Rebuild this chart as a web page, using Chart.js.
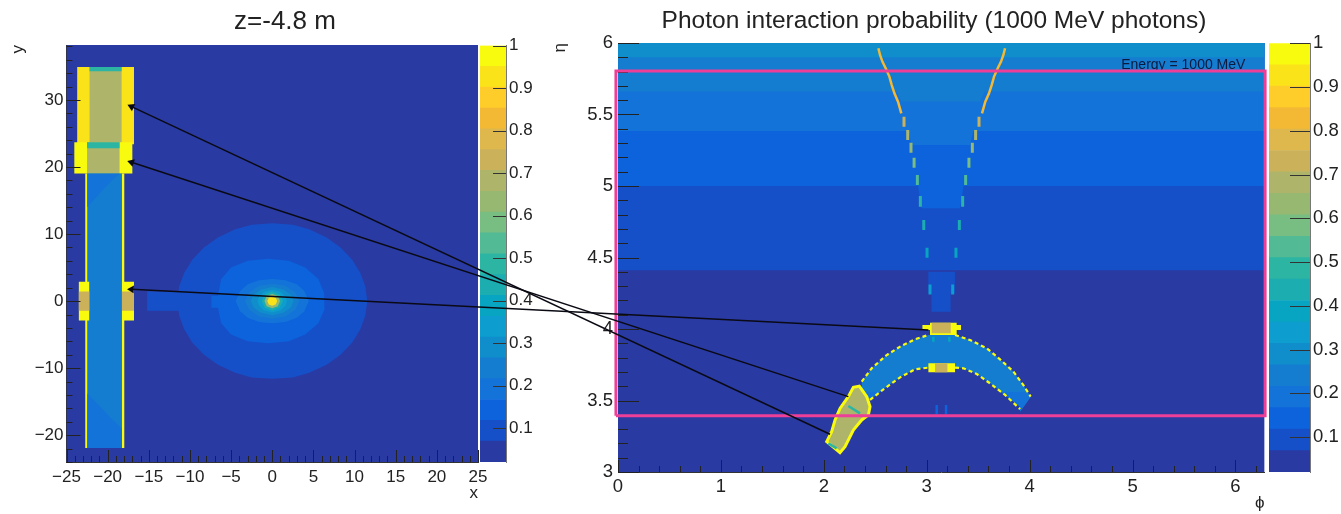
<!DOCTYPE html>
<html>
<head>
<meta charset="utf-8">
<title>Photon interaction probability</title>
<script src="https://cdn.jsdelivr.net/npm/chart.js@4"></script>
<style>
  html, body { margin: 0; padding: 0; background: #fff; }
  body { position: relative; width: 1341px; height: 514px; overflow: hidden; }
  canvas { position: absolute; top: 0; }
  #leftMap { left: 0; }
  #leftBar { left: 480px; }
  #rightMap { left: 540px; }
  #rightBar { left: 1269px; }
  #overlay { left: 0; pointer-events: none; }
</style>
</head>
<body>
<canvas id="leftMap" width="570" height="514"></canvas>
<canvas id="leftBar" width="60" height="514"></canvas>
<canvas id="rightMap" width="788" height="514"></canvas>
<canvas id="rightBar" width="72" height="514"></canvas>
<canvas id="overlay" width="1341" height="514"></canvas>
<script>
// colour scale, 20 contours
const zLevels = [0.02, 0.069, 0.118, 0.167, 0.216, 0.265, 0.314, 0.363, 0.412, 0.461, 0.51,
  0.559, 0.608, 0.657, 0.706, 0.755, 0.804, 0.853, 0.902, 0.951, 1];
const levelColors = ['#2a3aa3', '#1650c8', '#0c63dc', '#1473d8', '#147dd0', '#0f8ecb', '#0d9dce',
  '#08a5c2', '#1cadb0', '#2db5a3', '#52ba95', '#78bd82', '#96b870', '#aeb56a', '#cbb25a',
  '#dfb84d', '#f3b834', '#fecd2a', '#fbe31a', '#f9fb0e'];
const zTicks = [0.1, 0.2, 0.3, 0.4, 0.5, 0.6, 0.7, 0.8, 0.9, 1];

// left map: z=-4.8 m
const leftXTicks = [-25, -20, -15, -10, -5, 0, 5, 10, 15, 20, 25];
const leftYTicks = [-20, -10, 0, 10, 20, 30];
// [z, x0, x1, y0, y1]
const leftBlocks = [
  [0.045, -25, 25, -24, 38.2],
  [0.09, -15.2, -11, -1.45, 1.45],
  [0.93, -23.7, -16.8, 23.4, 34.9],
  [0.68, -22.2, -18.3, 23.4, 34.9],
  [0.47, -22.2, -18.3, 34.3, 34.9],
  [0.97, -24.05, -17, 19.05, 23.7],
  [0.68, -22.5, -18.55, 19.05, 23.7],
  [0.47, -22.5, -18.55, 22.8, 23.7],
  [0.97, -22.72, -17.98, -21.9, 19.05],
  [0.24, -22.48, -18.26, -21.9, 19.05],
  [0.97, -23.5, -22.24, -2.9, 2.9],
  [0.97, -18.26, -16.8, -2.9, 2.9],
  [0.72, -23.5, -22.24, -1.45, 1.45],
  [0.72, -18.26, -16.8, -1.45, 1.45]
];
const columnCornerTop = [[-22.48, 19.05], [-18.5, 19.05], [-19.5, 18], [-21, 16], [-22.48, 14]];
const columnCornerBottom = [[-22.48, -13.8], [-21, -15.6], [-19.5, -17.6], [-18.26, -19], [-18.26, -21.9], [-22.48, -21.9]];
const beamDisk = [[0, 11.6], [2.5, 11.4], [4.5, 10.7], [6.6, 9.5], [8.3, 8], [9.7, 6.2], [10.7, 4.2], [11.3, 2.2], [11.55, 0],
  [11.3, -2.2], [10.7, -4.2], [9.7, -6.2], [8.3, -8], [6.6, -9.5], [4.5, -10.7], [2.5, -11.4], [0, -11.6],
  [-2.5, -11.4], [-4.5, -10.7], [-6.6, -9.5], [-8.3, -8], [-9.7, -6.2], [-10.7, -4.2], [-11.3, -2.2], [-11.55, 0],
  [-11.3, 2.2], [-10.7, 4.2], [-9.7, 6.2], [-8.3, 8], [-6.6, 9.5], [-4.5, 10.7], [-2.5, 11.4]];
const ringA = [[-0.5, 6.3], [2, 6], [4, 5], [5.6, 3.3], [6.3, 1.2], [6.4, 0], [6.3, -1.2], [5.6, -3.3], [4, -5], [2, -6], [-0.5, -6.3],
  [-3, -6], [-5, -5], [-6.2, -3.3], [-6.6, -1], [-7.4, -1], [-7.4, 0.8], [-6.6, 0.8], [-6.2, 3.3], [-5, 5], [-3, 6]];
const ringB = [[0, 3.3], [1.6, 3.1], [3, 2.5], [3.9, 1.5], [4.45, 0], [3.9, -1.5], [3, -2.5], [1.6, -3.1], [0, -3.3], [-1.6, -3.1], [-3, -2.5], [-3.9, -1.5], [-4.45, 0], [-3.9, 1.5], [-3, 2.5], [-1.6, 3.1]];
const ringC = [[0, 2.6], [1.6, 2.3], [2.8, 1.3], [3.3, 0], [2.8, -1.3], [1.6, -2.3], [0, -2.6], [-1.6, -2.3], [-2.8, -1.3], [-3.3, 0], [-2.8, 1.3], [-1.6, 2.3]];
const ringD = [[0, 2.1], [1.4, 1.7], [2.3, 0.9], [2.6, 0], [2.3, -0.9], [1.4, -1.7], [0, -2.1], [-1.4, -1.7], [-2.3, -0.9], [-2.6, 0], [-2.3, 0.9], [-1.4, 1.7]];
const ringE = [[0, 1.7], [1, 1.4], [1.6, 0.7], [1.8, 0], [1.6, -0.7], [1, -1.4], [0, -1.7], [-1, -1.4], [-1.6, -0.7], [-1.8, 0], [-1.6, 0.7], [-1, 1.4]];
const ringF = [[0, 1.45], [0.9, 1], [1.3, 0], [0.9, -1], [0, -1.45], [-0.9, -1], [-1.3, 0], [-0.9, 1]];
const ringG = [[0, 1.05], [0.68, 0.75], [0.95, 0], [0.68, -0.75], [0, -1.05], [-0.68, -0.75], [-0.95, 0], [-0.68, 0.75]];
const ringH = [[0, 0.7], [0.42, 0.5], [0.6, 0], [0.42, -0.5], [0, -0.7], [-0.42, -0.5], [-0.6, 0], [-0.42, 0.5]];

// right map: eta vs phi
const rightXTicks = [0, 1, 2, 3, 4, 5, 6];
const rightYTicks = [3, 3.5, 4, 4.5, 5, 5.5, 6];
const phiMax = 6.283;
// [z, lower eta edge], each band runs on up to the top of the map
const etaBands = [
  [0.045, 3],
  [0.09, 4.41],
  [0.14, 5],
  [0.19, 5.385],
  [0.24, 5.66],
  [0.29, 5.9]
];
// inside of the beam pipe cone
const coneA = [[2.595, 5.846], [3.68, 5.846], [3.518, 5.59], [2.756, 5.59]];
const coneB = [[2.756, 5.59], [3.518, 5.59], [3.421, 5.287], [2.853, 5.287]];
const coneC = [[2.853, 5.287], [3.421, 5.287], [3.324, 4.844], [2.95, 4.844]];
const coneD = [[3.015, 4.401], [3.274, 4.401], [3.274, 4.249], [3.232, 4.249], [3.232, 4.121], [3.047, 4.121], [3.047, 4.249], [3.015, 4.249]];
const coneEdgeLeft = [[2.53, 5.963], [2.546, 5.916], [2.569, 5.87], [2.601, 5.823], [2.637, 5.765], [2.66, 5.706], [2.686, 5.648], [2.721, 5.59], [2.753, 5.508]];
const coneEdgeRight = [[3.761, 5.963], [3.745, 5.916], [3.722, 5.87], [3.69, 5.823], [3.654, 5.765], [3.631, 5.706], [3.605, 5.648], [3.569, 5.59], [3.537, 5.508]];
// [z, phi left, phi right, eta0, eta1]
const coneDashes = [
  [0.72, 2.779, 3.508, 5.415, 5.485],
  [0.68, 2.815, 3.475, 5.322, 5.392],
  [0.63, 2.847, 3.443, 5.233, 5.303],
  [0.58, 2.877, 3.41, 5.128, 5.198],
  [0.53, 2.909, 3.378, 5.007, 5.077],
  [0.47, 2.938, 3.349, 4.855, 4.93],
  [0.43, 2.971, 3.317, 4.692, 4.762],
  [0.38, 3.003, 3.284, 4.499, 4.569],
  [0.34, 3.032, 3.252, 4.242, 4.312]
];
const arcBody = [[2.368, 3.632], [2.465, 3.725], [2.611, 3.818], [2.741, 3.877], [2.886, 3.928], [3.016, 3.958], [3.275, 3.958],
  [3.421, 3.923], [3.583, 3.865], [3.712, 3.788], [3.842, 3.702], [3.939, 3.608], [4.01, 3.527], [3.907, 3.422], [3.907, 3.457],
  [3.761, 3.539], [3.615, 3.62], [3.486, 3.685], [3.356, 3.725], [3.275, 3.73], [3.016, 3.73], [2.886, 3.718], [2.741, 3.662],
  [2.579, 3.578], [2.449, 3.504], [2.368, 3.562]];
const arcCornerRight = [[3.712, 3.56], [3.957, 3.56], [4.01, 3.527], [3.907, 3.422], [3.907, 3.457], [3.761, 3.539]];
const arcCornerLeft = [[2.368, 3.562], [2.53, 3.562], [2.449, 3.504]];
const arcEdgeOuterLeft = [[2.368, 3.632], [2.465, 3.725], [2.611, 3.818], [2.741, 3.877], [2.886, 3.928], [3.016, 3.958]];
const arcEdgeOuterRight = [[3.275, 3.958], [3.421, 3.923], [3.583, 3.865], [3.712, 3.788], [3.842, 3.702], [3.939, 3.608], [4.01, 3.527]];
const arcEdgeInnerLeft = [[2.449, 3.504], [2.579, 3.578], [2.741, 3.662], [2.886, 3.718], [3.016, 3.73]];
const arcEdgeInnerRight = [[3.275, 3.73], [3.356, 3.725], [3.486, 3.685], [3.615, 3.62], [3.761, 3.539], [3.907, 3.44]];
// [z, x0, x1, y0, y1]
const arcBlocks = [
  [0.97, 2.958, 3.333, 3.993, 4.028],
  [0.97, 3.032, 3.291, 3.958, 4.044],
  [0.73, 3.048, 3.233, 3.97, 4.044],
  [0.97, 3.016, 3.275, 3.697, 3.76],
  [0.73, 3.081, 3.201, 3.697, 3.76]
];
// [z, x0, y0, x1, y1]
const arcStrokes = [
  [0.38, 3.064, 3.946, 3.064, 3.911],
  [0.38, 3.22, 3.946, 3.22, 3.911],
  [0.14, 3.097, 3.468, 3.097, 3.406],
  [0.14, 3.188, 3.468, 3.188, 3.406],
  [0.47, 2.238, 3.462, 2.352, 3.41],
  [0.47, 2.044, 3.2, 2.125, 3.165]
];
const endcap = [[2.238, 3.527], [2.287, 3.592], [2.345, 3.601], [2.417, 3.527], [2.449, 3.457], [2.433, 3.399], [2.368, 3.364],
  [2.287, 3.294], [2.206, 3.177], [2.157, 3.135], [2.028, 3.212], [2.076, 3.282], [2.109, 3.364], [2.157, 3.445], [2.238, 3.527]];

// arrows: head in the left map (x, y), tail in the right map (phi, eta)
const arrowHeads = [[-17.1, 29], [-17.1, 20.7], [-17.1, 1.75]];
const arrowTails = [[2.06, 3.264], [2.238, 3.527], [3.016, 3.993]];
// pink box in phi, eta
const boxPhi = [-0.02, 6.288];
const boxEta = [3.394, 5.804];
const energyText = 'Energy = 1000 MeV';
const energyPos = [4.89, 5.818];

Chart.defaults.font.family = '"Liberation Sans", Arial, sans-serif';
Chart.defaults.color = '#222';
Chart.defaults.animation = false;

function zColor(z) {
  for (let i = 0; i < levelColors.length; i++) {
    if (z < zLevels[i + 1]) return levelColors[i];
  }
  return levelColors[levelColors.length - 1];
}

function toXY(points) {
  return points.map(p => ({ x: p[0], y: p[1] }));
}

function area(points, z) {
  return { data: toXY(points), showLine: true, fill: 'shape', backgroundColor: zColor(z), borderWidth: 0, pointRadius: 0 };
}

function block(r) {
  return area([[r[1], r[3]], [r[2], r[3]], [r[2], r[4]], [r[1], r[4]]], r[0]);
}

function stroke(points, z, width, dash) {
  return { data: toXY(points), showLine: true, fill: false, borderColor: zColor(z), borderWidth: width, borderDash: dash || [], pointRadius: 0 };
}

function steps(from, to, step) {
  const out = [];
  for (let i = 0; from + i * step <= to + 1e-9; i++) out.push(+(from + i * step).toFixed(3));
  return out;
}

// ROOT style ticks, drawn inwards from the axis
const insideTicks = {
  id: 'insideTicks',
  afterDatasetsDraw(chart, args, opts) {
    const ctx = chart.ctx, area = chart.chartArea;
    ctx.save();
    ctx.strokeStyle = opts.color;
    ctx.lineWidth = 1;
    opts.axes.forEach(a => {
      const scale = chart.scales[a.id];
      const draw = (v, len) => {
        const p = Math.round(scale.getPixelForValue(v)) + 0.5;
        ctx.beginPath();
        if (a.id === 'x') {
          ctx.moveTo(p, area.bottom);
          ctx.lineTo(p, area.bottom - len);
        } else if (a.fromRight) {
          ctx.moveTo(area.right, p);
          ctx.lineTo(area.right - len, p);
        } else {
          ctx.moveTo(area.left, p);
          ctx.lineTo(area.left + len, p);
        }
        ctx.stroke();
      };
      a.major.forEach(v => draw(v, a.majorLen));
      a.minor.forEach(v => draw(v, a.minorLen));
    });
    ctx.restore();
  }
};

const energyLabel = {
  id: 'energyLabel',
  afterDatasetsDraw(chart) {
    const ctx = chart.ctx, area = chart.chartArea;
    const x = chart.scales.x.getPixelForValue(energyPos[0]);
    const y = chart.scales.y.getPixelForValue(energyPos[1]);
    ctx.save();
    ctx.beginPath();
    ctx.rect(area.left, area.top, area.right - area.left, chart.scales.y.getPixelForValue(boxEta[1]) - area.top);
    ctx.clip();
    ctx.fillStyle = '#0d1a40';
    ctx.font = '14px "Liberation Sans"';
    ctx.textBaseline = 'alphabetic';
    ctx.fillText(energyText, x, y);
    ctx.restore();
  }
};

function axisLabel(v) {
  return String(v).replace('-', '\u2212');
}

function mapChart(id, cfg) {
  return new Chart(document.getElementById(id), {
    type: 'scatter',
    data: { datasets: cfg.marks.slice().reverse() },
    plugins: cfg.plugins,
    options: {
      responsive: false,
      layout: { autoPadding: false },
      plugins: {
        legend: { display: false },
        tooltip: { enabled: false },
        title: {
          display: true, text: cfg.title, color: '#222',
          font: { size: cfg.titleSize, weight: 'normal' },
          padding: { top: cfg.titleTop, bottom: cfg.titleBottom }
        },
        insideTicks: { color: '#222', axes: cfg.tickAxes }
      },
      scales: {
        x: {
          type: 'linear', min: cfg.xMin, max: cfg.xMax,
          grid: { display: false, drawTicks: false },
          border: { display: true, color: '#333' },
          title: { display: true, text: cfg.xTitle, align: 'end', font: { size: 17 }, padding: cfg.xTitlePad },
          ticks: { autoSkip: false, maxRotation: 0, padding: cfg.xTickPad, font: { size: cfg.tickSize }, callback: axisLabel },
          afterBuildTicks: s => { s.ticks = cfg.xTicks.map(v => ({ value: v })); },
          afterFit: s => { s.height = 514 - cfg.bottom; }
        },
        y: {
          type: 'linear', min: cfg.yMin, max: cfg.yMax,
          grid: { display: false, drawTicks: false },
          border: { display: true, color: '#333' },
          title: { display: true, text: cfg.yTitle, align: 'end', font: { size: 17 }, padding: cfg.yTitlePad },
          ticks: { autoSkip: false, padding: cfg.yTickPad, font: { size: cfg.tickSize }, callback: axisLabel },
          afterBuildTicks: s => { s.ticks = cfg.yTicks.map(v => ({ value: v })); },
          afterFit: s => { s.width = cfg.axisWidth; }
        },
        // empty axis, keeps the title centred on the whole canvas and leaves room for the colour bar
        spacer: {
          type: 'linear', position: 'right',
          grid: { display: false, drawTicks: false },
          border: { display: false },
          ticks: { display: false },
          afterFit: s => { s.width = cfg.rightGap; }
        }
      }
    }
  });
}

function barChart(id, cfg) {
  const bars = levelColors.map((c, i) => ({
    data: [[zLevels[i], zLevels[i + 1]]],
    backgroundColor: c, borderWidth: 0, barPercentage: 1, categoryPercentage: 1, grouped: false
  }));
  return new Chart(document.getElementById(id), {
    type: 'bar',
    data: { labels: ['z'], datasets: bars },
    plugins: [insideTicks],
    options: {
      responsive: false,
      layout: { autoPadding: false, padding: { top: cfg.top, bottom: 514 - cfg.bottom } },
      plugins: {
        legend: { display: false },
        tooltip: { enabled: false },
        insideTicks: { color: '#333', axes: [{ id: 'y', fromRight: true, major: zTicks, minor: [], majorLen: cfg.tickLen, minorLen: 0 }] }
      },
      scales: {
        x: { display: false, stacked: false },
        y: {
          type: 'linear', position: 'right', min: zLevels[0], max: 1,
          grid: { display: false, drawTicks: false },
          border: { display: true, color: '#777' },
          ticks: { autoSkip: false, padding: 3, font: { size: cfg.tickSize }, callback: axisLabel },
          afterBuildTicks: s => { s.ticks = zTicks.map(v => ({ value: v })); },
          afterFit: s => { s.width = cfg.axisWidth; }
        }
      }
    }
  });
}

// paint order: first mark is at the bottom
const leftMarks = leftBlocks.slice(0, 2).map(block).concat([
  area(beamDisk, 0.09), area(ringA, 0.14), area(ringB, 0.19), area(ringC, 0.24), area(ringD, 0.29),
  area(ringE, 0.35), area(ringF, 0.45), area(ringG, 0.65), area(ringH, 0.92)
], leftBlocks.slice(2).map(block), [
  area(columnCornerTop, 0.19), area(columnCornerBottom, 0.19)
]);

const rightMarks = etaBands.map(b => block([b[0], 0, phiMax, b[1], 6])).concat([
  area(coneA, 0.24), area(coneB, 0.19), area(coneC, 0.14), area(coneD, 0.09),
  stroke(coneEdgeLeft, 0.82, 2.5), stroke(coneEdgeRight, 0.82, 2.5)
]);
coneDashes.forEach(d => {
  rightMarks.push(stroke([[d[1], d[3]], [d[1], d[4]]], d[0], 3));
  rightMarks.push(stroke([[d[2], d[3]], [d[2], d[4]]], d[0], 3));
});
rightMarks.push(area(arcBody, 0.24), area(arcCornerRight, 0.19), area(arcCornerLeft, 0.19));
[arcEdgeOuterLeft, arcEdgeOuterRight, arcEdgeInnerLeft, arcEdgeInnerRight].forEach(e => {
  rightMarks.push(stroke(e, 0.97, 2.2, [4, 3]));
});
arcBlocks.forEach(b => rightMarks.push(block(b)));
rightMarks.push(Object.assign(area(endcap, 0.68), { borderColor: zColor(0.97), borderWidth: 3 }));
arcStrokes.forEach(s => rightMarks.push(stroke([[s[1], s[2]], [s[3], s[4]]], s[0], 2.5)));

const leftChart = mapChart('leftMap', {
  marks: leftMarks, plugins: [insideTicks],
  title: 'z=-4.8 m', titleSize: 26, titleTop: 6.5, titleBottom: 7.3, rightGap: 92,
  xMin: -25, xMax: 25, yMin: -24, yMax: 38.2, xTicks: leftXTicks, yTicks: leftYTicks,
  xTitle: 'x', yTitle: 'y', xTitlePad: { top: 0, bottom: 10 }, yTitlePad: { top: 8, bottom: 0 },
  tickSize: 17, xTickPad: 5, yTickPad: 3, bottom: 462, axisWidth: 66.5,
  tickAxes: [
    { id: 'x', major: leftXTicks, minor: steps(-25, 25, 1), majorLen: 12, minorLen: 6 },
    { id: 'y', major: leftYTicks, minor: steps(-24, 38, 2), majorLen: 14, minorLen: 6 }
  ]
});

const rightChart = mapChart('rightMap', {
  marks: rightMarks, plugins: [insideTicks, energyLabel],
  title: 'Photon interaction probability (1000 MeV photons)', titleSize: 24.5, titleTop: 7, titleBottom: 6.6, rightGap: 63.4,
  xMin: 0, xMax: phiMax, yMin: 3, yMax: 6, xTicks: rightXTicks, yTicks: rightYTicks,
  xTitle: '\u03d5', yTitle: '\u03b7', xTitlePad: { top: 0, bottom: 0 }, yTitlePad: { top: 10, bottom: 0 },
  tickSize: 18.5, xTickPad: 4, yTickPad: 5, bottom: 472, axisWidth: 78,
  tickAxes: [
    { id: 'x', major: rightXTicks, minor: steps(0, 6.2, 0.2), majorLen: 12, minorLen: 6 },
    { id: 'y', major: rightYTicks, minor: steps(3, 6, 0.1), majorLen: 21, minorLen: 10 }
  ]
});

barChart('leftBar', { top: 45.5, bottom: 462, tickLen: 13, tickSize: 17, axisWidth: 34 });
barChart('rightBar', { top: 43.3, bottom: 472, tickLen: 20, tickSize: 18.5, axisWidth: 31 });

// arrows and the pink box cross both maps, so they sit on a page sized chart
function toPage(chart, x, y) {
  return {
    x: chart.canvas.offsetLeft + chart.scales.x.getPixelForValue(x),
    y: chart.scales.y.getPixelForValue(y)
  };
}

const overlayMarks = arrowHeads.map((h, i) => {
  const head = toPage(leftChart, h[0], h[1]);
  const tail = toPage(rightChart, arrowTails[i][0], arrowTails[i][1]);
  const angle = Math.atan2(head.x - tail.x, tail.y - head.y) * 180 / Math.PI;
  return {
    data: [head, tail], showLine: true, fill: false, borderColor: '#0a0a14', borderWidth: 1.5,
    pointStyle: 'triangle', pointRadius: [4.5, 0], pointRotation: [angle, 0],
    pointBackgroundColor: '#0a0a14', pointBorderWidth: 0
  };
});
overlayMarks.push({
  data: [toPage(rightChart, boxPhi[0], boxEta[0]), toPage(rightChart, boxPhi[1], boxEta[0]),
    toPage(rightChart, boxPhi[1], boxEta[1]), toPage(rightChart, boxPhi[0], boxEta[1]),
    toPage(rightChart, boxPhi[0], boxEta[0])],
  showLine: true, fill: false, borderColor: '#ee3f98', borderWidth: 3, pointRadius: 0
});

new Chart(document.getElementById('overlay'), {
  type: 'scatter',
  data: { datasets: overlayMarks },
  options: {
    responsive: false,
    layout: { autoPadding: false },
    plugins: { legend: { display: false }, tooltip: { enabled: false } },
    scales: {
      x: { type: 'linear', display: false, min: 0, max: 1341 },
      y: { type: 'linear', display: false, min: 0, max: 514, reverse: true }
    }
  }
});
</script>
</body>
</html>
